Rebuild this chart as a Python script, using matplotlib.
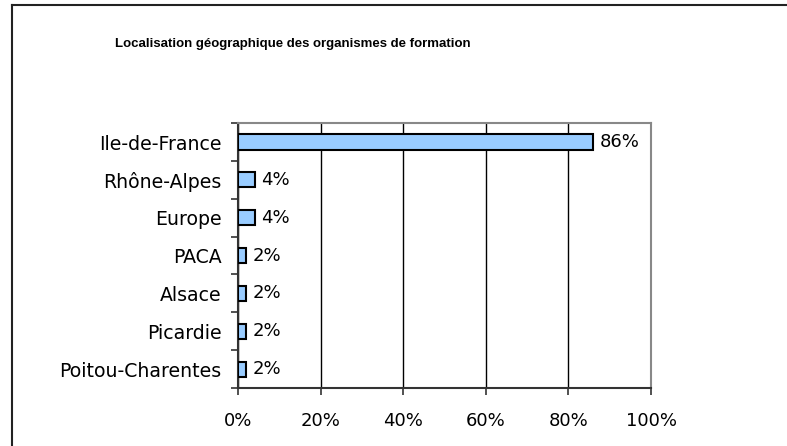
import matplotlib
matplotlib.use('Agg')
import matplotlib.pyplot as plt
from matplotlib.lines import Line2D
import numpy as np

# Data
regions = ['Ile-de-France', 'Rhône-Alpes', 'Europe', 'PACA',
           'Alsace', 'Picardie', 'Poitou-Charentes']
values = [86, 4, 4, 2, 2, 2, 2]
xticks = [0, 20, 40, 60, 80, 100]

plt.rcParams['font.family'] = ['DejaVu Sans']
fs = 13

fig = plt.figure(figsize=(7.87, 4.46), dpi=100)
ax = fig.add_axes([0.3024, 0.130, 0.5248, 0.594])

y = np.arange(len(regions))
ax.barh(y, values, height=0.4, color='#99CCFF', edgecolor='black',
        linewidth=1.5, zorder=3)

for yi, v in zip(y, values):
    ax.annotate(f'{v}%', (v, yi), xytext=(4.5, 0), textcoords='offset points',
                va='center', ha='left', fontsize=fs)

ax.set_xlim(0, 100)
ax.set_ylim(len(regions) - 0.5, -0.5)
ax.set_xticks(xticks)
ax.set_xticklabels([f'{t}%' for t in xticks], fontsize=fs)
ax.set_yticks(y)
ax.set_yticklabels(regions, fontsize=13.6)
ax.tick_params(axis='y', length=0, pad=12)
ax.tick_params(axis='x', length=5, width=1.2, color='#333333', pad=12)

# category boundary ticks on y axis
ax.set_yticks(np.arange(-0.5, len(regions)), minor=True)
ax.tick_params(axis='y', which='minor', length=5, width=1.2, color='#333333')

ax.grid(axis='x', color='black', linewidth=1, zorder=0)
for s in ['top', 'right']:
    ax.spines[s].set_color('#888888')
    ax.spines[s].set_linewidth(1.5)
for s in ['left', 'bottom']:
    ax.spines[s].set_color('#333333')
    ax.spines[s].set_linewidth(1.5)

fig.text(293 / 787, 1 - 44 / 446, 'Localisation géographique des organismes de formation',
         ha='center', va='center', fontsize=9.5, fontweight='bold',
         family=['Liberation Sans', 'DejaVu Sans'])

# outer frame (left and top edges)
fig.add_artist(Line2D([12 / 787, 12 / 787], [0, 1 - 5 / 446],
                      transform=fig.transFigure, color='#222222', linewidth=1.5))
fig.add_artist(Line2D([12 / 787, 1], [1 - 5 / 446, 1 - 5 / 446],
                      transform=fig.transFigure, color='#222222', linewidth=1.5))

fig.savefig('out.png', dpi=100)
